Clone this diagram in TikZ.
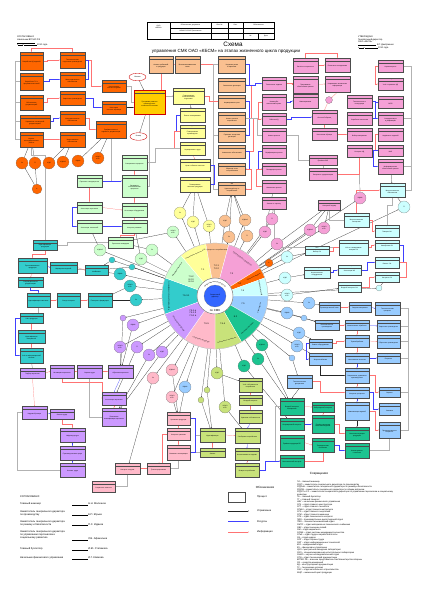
\documentclass[tikz,border=0pt]{standalone}
\usepackage{fontspec}
\setmainfont{Liberation Sans}
\usetikzlibrary{arrows.meta,shapes.geometric,decorations.text}

\definecolor{korange}{HTML}{FF6600}
\definecolor{ktan}{HTML}{FAC090}
\definecolor{kyellow}{HTML}{FFFF99}
\definecolor{kpink}{HTML}{F5A0D6}
\definecolor{klgreen}{HTML}{CCFFCC}
\definecolor{kteal}{HTML}{33CCCC}
\definecolor{kpurple}{HTML}{CC99FF}
\definecolor{krose}{HTML}{FFB9C9}
\definecolor{klblue}{HTML}{99CCFF}
\definecolor{kgreen}{HTML}{1CC490}
\definecolor{klime}{HTML}{C8E27A}
\definecolor{kcyan}{HTML}{CCFFFF}
\definecolor{kgold}{HTML}{FFCC00}
\definecolor{kblue}{HTML}{3366FF}

\pgfdeclarelayer{background}
\pgfsetlayers{background,main}

\newcommand{\boxfont}{\fontsize{2.3}{2.7}\selectfont}
\newcommand{\codefont}{\fontsize{2.1}{2.3}\selectfont}
\newcommand{\rolefont}{\fontsize{2.2}{2.5}\selectfont}
\newcommand{\notefont}{\fontsize{3.6}{4.3}\selectfont}

\begin{document}
\begin{tikzpicture}[x=0.05cm,y=-0.05cm]
  \tikzset{procbox/.style 2 args={draw=black!70,line width=0.2pt,fill=#1,inner sep=0.4pt,
      minimum width=1.2cm,minimum height=0.65cm,text width=1.0cm,align=center,font=\boxfont,
      execute at begin node={\rule{0pt}{6pt}},
      path picture={\draw[black!70,line width=0.15pt]
          ([yshift=-0.15cm]path picture bounding box.north west) --
          ([yshift=-0.15cm]path picture bounding box.north east);
        \node[font=\codefont,inner sep=0pt,minimum width=0pt,minimum height=0pt,
          text height=1.5pt,text depth=0.4pt,anchor=north]
          at ([yshift=-0.02cm]path picture bounding box.north) {#2};}}}
  \tikzset{orangebox/.style={procbox={korange}{#1}},tanbox/.style={procbox={ktan}{#1}},
    yellowbox/.style={procbox={kyellow}{#1}},pinkbox/.style={procbox={kpink}{#1}},
    cyanbox/.style={procbox={kcyan}{#1}},bluebox/.style={procbox={klblue}{#1}},
    greenbox/.style={procbox={kgreen}{#1}},limebox/.style={procbox={klime}{#1}},
    rosebox/.style={procbox={krose}{#1}},purplebox/.style={procbox={kpurple}{#1}},
    tealbox/.style={procbox={kteal}{#1}},lgreenbox/.style={procbox={klgreen}{#1}}}
  \tikzset{wh/.style 2 args={minimum width=#1*0.05cm,minimum height=#2*0.05cm}}
  \tikzset{rolenode/.style={circle,draw=black!60,line width=0.2pt,fill=#1,inner sep=0pt,
      minimum size=0.6cm,align=center,font=\rolefont}}
  \tikzset{termnode/.style={ellipse,draw=red!80!black,line width=0.5pt,fill=white,
      minimum width=0.85cm,minimum height=0.38cm,inner sep=0pt,font=\fontsize{2.6}{3}\selectfont}}
  \tikzset{plaintext/.style={inner sep=0pt,font=\notefont,align=left}}
  \tikzset{sectorlabel/.style={font=\fontsize{3.2}{3.7}\selectfont,align=center,inner sep=0pt}}
  \tikzset{sectornote/.style={font=\fontsize{2.3}{2.7}\selectfont,inner sep=0pt}}
  \tikzset{ctledge/.style={draw=black!85,line width=0.3pt,-{Stealth[length=1.4pt,width=1.1pt]}}}
  \tikzset{resedge/.style={draw=blue!75,line width=0.3pt,-{Stealth[length=1.4pt,width=1.1pt]}}}
  \tikzset{infedge/.style={draw=red!55,line width=0.3pt,-{Stealth[length=1.4pt,width=1.1pt]}}}
  \tikzset{busedge/.style={draw=black!30,line width=0.8pt}}

  \useasboundingbox (0,0) rectangle (424,600);

  \draw[line width=0.3pt] (147,22) rectangle (274,39);
  \draw[line width=0.25pt] (170,22) -- (170,39) (211,22) -- (211,39) (228,22) -- (228,39)
    (243,22) -- (243,39) (170,28.3) -- (274,28.3) (170,33.3) -- (274,33.3) (258,33.3) -- (258,39);
  \node[plaintext,font=\fontsize{2.4}{2.8}\selectfont,align=center] (hdr1) at (158.5,27) {ОАО\\«КБСМ»};
  \node[plaintext,font=\fontsize{2.4}{2.8}\selectfont] (hdr2) at (190.5,25) {Обозначение документа};
  \node[plaintext,font=\fontsize{2.4}{2.8}\selectfont] (hdr3) at (219.5,25) {Лист №};
  \node[plaintext,font=\fontsize{2.4}{2.8}\selectfont] (hdr4) at (235.5,25) {Лист};
  \node[plaintext,font=\fontsize{2.4}{2.8}\selectfont] (hdr5) at (258.5,25) {Обозначение};
  \node[plaintext,font=\fontsize{2.4}{2.8}\selectfont] (hdr6) at (190.5,30.8) {КСМК-РК-2010 Приложение};
  \node[plaintext,font=\fontsize{2.4}{2.8}\selectfont] (hdr7) at (250.5,36.2) {№};
  \node[plaintext,font=\fontsize{2.4}{2.8}\selectfont] (hdr8) at (266,36.2) {Дата};

  \node[inner sep=0pt,font=\fontsize{9}{10}\selectfont] (title) at (233,44) {Схема};
  \node[inner sep=0pt,font=\fontsize{6.4}{7}\selectfont] (subtitle) at (226,51) {управления СМК ОАО «КБСМ» на этапах жизненного цикла продукции};

  \node[plaintext,anchor=north west,font=\fontsize{3.2}{3.7}\selectfont] (agreed) at (17,36)
    {СОГЛАСОВАНО\\Начальник ВП МО РФ\\\rule{26pt}{0.2pt}\\«\rule{6pt}{0.2pt}»\rule{18pt}{0.2pt} 2010 года};
  \node[plaintext,anchor=north west,font=\fontsize{3.2}{3.7}\selectfont] (approved) at (358,36)
    {УТВЕРЖДАЮ\\Генеральный директор\\ОАО «КБСМ»\\\rule{26pt}{0.2pt} В.Г. Дмитриенко\\«\rule{6pt}{0.2pt}»\rule{18pt}{0.2pt} 2010 года};

  \node[orangebox=ОГК,wh={23}{18}] (o1) at (31.5,61) {Разработка КД изделий};
  \node[orangebox=ОГК,wh={23}{17}] (o2) at (31.5,81.5) {Разработка ТУ и программ испытаний};
  \node[orangebox=ОТОиКД,wh={23}{15}] (o3) at (31.5,102.5) {Обеспечение документацией};
  \node[orangebox=ОТД,wh={30}{13}] (o4) at (35,121.5) {Управление технической документацией};
  \node[orangebox=ОНИО,wh={23}{15}] (o5) at (31.5,139.5) {Научно-исследовательские работы};
  \node[orangebox=ОГТ,wh={25}{16}] (o6) at (72.5,60) {Технологическая подготовка производства};
  \node[orangebox=ОГМет,wh={25}{15}] (o7) at (72.5,79.5) {Металлургическое обеспечение};
  \node[orangebox=ОГСв,wh={25}{14}] (o8) at (72.5,98) {Сварочное производство};
  \node[orangebox=ОИО,wh={25}{14}] (o9) at (72.5,118) {Инструментальное обеспечение};
  \node[orangebox=ОГЭ,wh={25}{15}] (o10) at (72.5,139.5) {Энергетическое обеспечение};
  \node[orangebox=ОСИ,wh={24}{12}] (o11) at (114,86) {Изготовление опытных изделий};
  \node[orangebox=СИЛ,wh={24}{13}] (o12) at (114,107.5) {Испытания опытных образцов};
  \node[orangebox=ВП,wh={30}{17}] (o13) at (111,129.5) {Приёмка опытных изделий и документации};
  \node[procbox={kgold}{ГИ},draw=red!80!black,line width=0.6pt,wh={31}{24}] (og) at (149.5,102) {Программа развития производства и технической политики};
  \node[termnode] (nachalo) at (137.5,77) {Начало};
  \node[termnode] (konets) at (138.5,136.5) {Конец};

  \node[tanbox=ОВС,wh={24}{17}] (t1) at (161,64.5) {Анализ требований к продукции};
  \node[tanbox=ОВЭС,wh={25}{17}] (t2) at (187.5,64.5) {Внешнеэкономические связи};
  \node[tanbox=ОМ,wh={27}{17}] (t3) at (232,64.5) {Изучение рынка и маркетинг};
  \node[tanbox=ОВС,wh={27}{14}] (t4) at (232,85) {Заключение договоров};
  \node[tanbox=ПЭО,wh={27}{13}] (t5) at (232,101.5) {Формирование цены};
  \node[tanbox=ОЗП,wh={27}{13}] (t6) at (232,118.5) {Анализ заказов потребителя};
  \node[tanbox=ЮО,wh={27}{14}] (t7) at (232,135) {Правовая экспертиза договоров};
  \node[tanbox=ФУ,wh={27}{13}] (t8) at (232,151.5) {Финансовое обеспечение};
  \node[tanbox=ОВС,wh={27}{12}] (t9) at (232,169) {Обратная связь с потребителем};
  \node[tanbox=ОМ,wh={27}{13}] (t10) at (232,189) {Удовлетворённость потребителей};

  \node[yellowbox=ОГТ,wh={31}{16}] (y1) at (188.5,96) {Планирование технологической подготовки};
  \node[yellowbox=ПЭО,wh={25}{14}] (y2) at (192.5,115) {Бизнес-планирование};
  \node[yellowbox=ПДО,wh={25}{13}] (y3) at (192.5,131.5) {Планирование производства};
  \node[yellowbox=ОТиЗ,wh={25}{13}] (y4) at (192.5,148.5) {Нормирование труда};
  \node[yellowbox=ОСМК,wh={30}{12}] (y5) at (195,165) {Цели в области качества};
  \node[yellowbox=ОСМК,wh={30}{15}] (y6) at (195,184.5) {Планирование качества продукции};

  \node[pinkbox=ОГК,wh={24}{13}] (pa1) at (274,83.5) {Техническое задание};
  \node[pinkbox=ОГК,wh={24}{16}] (pa2) at (274,102) {Эскизный и технический проект};
  \node[pinkbox=КБ,wh={24}{12}] (pa3) at (274,119) {Рабочая КД};
  \node[pinkbox=ОГК,wh={24}{14}] (pa4) at (274,135) {Анализ проекта};
  \node[pinkbox=ОГК,wh={24}{13}] (pa5) at (274,151.5) {Верификация проекта};
  \node[pinkbox=ОГК,wh={24}{12}] (pa6) at (274,169) {Валидация проекта};
  \node[pinkbox=ОТД,wh={24}{13}] (pa7) at (274,186.5) {Изменения проекта};
  \node[pinkbox=ОСМК,wh={24}{12}] (pa8) at (274,203) {Записи по проекту};
  \node[pinkbox=ОПО,wh={25}{15}] (pb1) at (305.5,65.5) {Расчёты на прочность};
  \node[pinkbox=ОПО,wh={25}{17}] (pb2) at (305.5,84.5) {Программное обеспечение проекта};
  \node[pinkbox=БМ,wh={25}{14}] (pb3) at (305.5,101) {Макетирование};
  \node[pinkbox=НТБ,wh={25}{14}] (pk1) at (337.5,65) {Патентные исследования};
  \node[pinkbox=НТБ,wh={25}{16}] (pk2) at (337.5,84) {Нормативно-техническая информация};
  \node[pinkbox=ОСИ,wh={25}{14}] (pm1) at (324.5,117) {Опытный образец};
  \node[pinkbox=СИЛ,wh={25}{12}] (pm2) at (324.5,134) {Испытания образца};
  \node[pinkbox=ВП,wh={28}{10}] (pm3) at (323,160) {Приёмка ОКР};
  \node[pinkbox=ОГК,wh={28}{12}] (pm4) at (323,174) {Литерность документации};
  \node[pinkbox=ОГК,wh={22}{10}] (pm5) at (329.5,205) {Авторский надзор};
  \node[pinkbox=ОГТ,wh={25}{13}] (pd1) at (359.5,101.5) {Технологичность конструкции};
  \node[pinkbox=ОГТ,wh={25}{13}] (pd2) at (359.5,118.5) {Отработка технологии};
  \node[pinkbox=ОГМет,wh={25}{13}] (pd3) at (359.5,134.5) {Выбор материалов};
  \node[pinkbox=ОТК,wh={25}{12}] (pd4) at (359.5,151) {Контроль КД};
  \node[pinkbox=ОСМК,wh={25}{12}] (pe1) at (390.5,66) {Нормоконтроль};
  \node[pinkbox=ОТД,wh={25}{12}] (pe2) at (390.5,84) {Учёт и хранение КД};
  \node[pinkbox=ОИТ,wh={25}{12}] (pe3) at (390.5,102) {САПР};
  \node[pinkbox=ОГК,wh={25}{13}] (pe4) at (390.5,118.5) {Стандартизация и унификация};
  \node[pinkbox=ОГК,wh={25}{13}] (pe5) at (390.5,134.5) {Надёжность изделий};
  \node[pinkbox=ОНИО,wh={25}{11}] (pe6) at (390.5,150.5) {НИР};
  \node[pinkbox=ОГК,wh={25}{15}] (pe7) at (390.5,166.5) {Информационное обеспечение проекта};
  \node[rolenode=kpink,minimum size=0.35cm] (pdot) at (329,100) {};

  \node[cyanbox=ОГМетр,wh={25}{14}] (c1) at (392.5,190) {Метрологическое обеспечение};
  \node[cyanbox=ОГМетр,wh={25}{14}] (c2) at (356.5,220) {Метрологическая экспертиза};
  \node[cyanbox=ЦИЛ,wh={24}{12}] (c3) at (387,231) {Поверка СИ};
  \node[cyanbox=ОГМетр,wh={29}{15}] (c4) at (353.5,247.5) {Учёт и планирование поверки СИ};
  \node[cyanbox=ЦИЛ,wh={24}{10}] (c5) at (387,245) {Калибровка СИ};
  \node[cyanbox=ОГМ,wh={24}{11}] (c6) at (387,262.5) {Ремонт СИ};
  \node[cyanbox=ОГМетр,wh={23}{10}] (c7) at (349.5,270) {Аттестация ИО};
  \node[cyanbox=ЦИЛ,wh={24}{10}] (c8) at (387,277) {Контроль СИ};
  \node[cyanbox=ОТК,wh={24}{9}] (c9) at (317,251) {Выбор СИ};
  \node[cyanbox=ОГМетр,wh={26}{11}] (c10) at (317,272.5) {Испытательное оборудование};
  \node[cyanbox=ОТК,wh={23}{10}] (c11) at (349.5,287) {Входной контроль СИ};

  \node[bluebox=ПДО,wh={21}{10}] (b1) at (329.5,307) {Производственный план};
  \node[bluebox=ОМТС,wh={22}{10}] (b2) at (360,307) {Закупка материалов};
  \node[bluebox=ОГТ,wh={25}{13}] (b3) at (387.5,308.5) {Технологические процессы};
  \node[bluebox=Цех 1,wh={24}{10}] (b4) at (327,325) {Заготовительное производство};
  \node[bluebox=Цех 2,wh={24}{10}] (b5) at (357,325) {Механическая обработка};
  \node[bluebox=Цех 3,wh={23}{12}] (b6) at (388.5,326) {Сварочное производство};
  \node[bluebox=Цех 4,wh={24}{12}] (b7) at (357,341) {Термообработка};
  \node[bluebox=Цех 5,wh={23}{13}] (b8) at (388.5,341.5) {Сборочное производство};
  \node[bluebox=ОГМ,wh={23}{9}] (b9) at (320.5,343.5) {Ремонт оборудования};
  \node[bluebox=ОГЭ,wh={23}{12}] (b10) at (320.5,359) {Энергоснабжение};
  \node[bluebox=ИЦ,wh={24}{10}] (b11) at (357,358) {Изготовление оснастки};
  \node[bluebox=Цех 6,wh={23}{10}] (b12) at (388.5,358) {Покрытия};
  \node[bluebox=ПДО,wh={24}{15}] (b13) at (357,375.5) {Оперативное управление производством};
  \node[bluebox=ОГТ,wh={25}{13}] (b14) at (299.5,381.5) {Технологическая дисциплина};
  \node[bluebox=ОТК,wh={24}{11}] (b15) at (357,392.5) {Контроль процессов};
  \node[bluebox=Цех 7,wh={21}{10}] (b16) at (389.5,392) {Окраска};
  \node[bluebox=ПДО,wh={24}{18}] (b17) at (357,411) {Комплектация изделий};
  \node[bluebox=Цех 8,wh={21}{12}] (b18) at (389.5,409) {Упаковка};
  \node[bluebox=ОГТ,wh={21}{16}] (b19) at (389.5,430) {Производственные мощности};

  \node[greenbox=ОТК,wh={24}{17}] (g1) at (292,406.5) {Входной контроль материалов};
  \node[greenbox=ЦЗЛ,wh={22}{10}] (g2) at (323,407) {Лабораторный контроль};
  \node[greenbox=ОТК,wh={24}{12}] (g3) at (292,424) {Операционный контроль};
  \node[greenbox=СИЛ,wh={22}{18}] (g4) at (323,424) {Приёмо-сдаточные испытания изделий};
  \node[greenbox=ВП,wh={24}{15}] (g5) at (292,442.5) {Приёмка продукции ВП};
  \node[greenbox=СИЛ,wh={22}{14}] (g6) at (323,445) {Периодические испытания};
  \node[greenbox=ОТК,wh={24}{13}] (g7) at (357,433.5) {Несоответствующая продукция};
  \node[greenbox=ОСМК,wh={24}{15}] (g8) at (357,450.5) {Анализ данных о качестве};
  \node[greenbox=ОТК,wh={24}{12}] (g9) at (292,461) {Окончательный контроль};

  \node[limebox=ОВС,wh={23}{14}] (m1) at (250.5,385) {Учёт собственности потребителя};
  \node[limebox=ОМТС,wh={23}{10}] (m2) at (250.5,400) {Входной контроль};
  \node[limebox=Склад,wh={23}{13}] (m3) at (250.5,416.5) {Хранение собственности};
  \node[limebox=ОТК,wh={25}{14}] (m4) at (212.5,435) {Идентификация};
  \node[limebox=ОВС,wh={25}{15}] (m5) at (247.5,435.5) {Сообщение потребителю};
  \node[limebox=ОСМК,wh={25}{9}] (m6) at (212.5,452.5) {Записи};
  \node[limebox=Цех,wh={24}{12}] (m7) at (247,454) {Использование в изделии};
  \node[limebox=ОВС,wh={24}{14}] (m8) at (247,470) {Возврат потребителю};

  \node[rosebox=Склад,wh={23}{13}] (s1) at (178.5,418.5) {Хранение продукции};
  \node[rosebox=ОТК,wh={23}{12}] (s2) at (178.5,434) {Контроль хранения};
  \node[rosebox=Цех,wh={23}{15}] (s3) at (178.5,452.5) {Упаковка и консервация};
  \node[rosebox=ОТК,wh={25}{11}] (s4) at (127.5,468.5) {Контроль отгрузки};
  \node[rosebox=ТО,wh={23}{11}] (s5) at (158.5,468.5) {Транспортирование};
  \node[rosebox=ОСМК,wh={23}{11}] (s6) at (103.5,486.5) {Сохранение качества};

  \node[purplebox=ОК,wh={25}{10}] (u1) at (32.5,373) {Подбор персонала};
  \node[purplebox=ОТиЗ,wh={24}{13}] (u2) at (62,371.5) {Мотивация персонала};
  \node[purplebox=ООТ,wh={25}{13}] (u3) at (89.5,371.5) {Охрана труда};
  \node[purplebox=ОК,wh={25}{13}] (u4) at (120.5,371.5) {Обучение персонала};
  \node[purplebox=ОК,wh={24}{13}] (u5) at (114,398.5) {Аттестация персонала};
  \node[purplebox=ОК,wh={24}{18}] (u6) at (114,417) {Повышение квалификации персонала};
  \node[purplebox=ОК,wh={25}{13}] (u7) at (34.5,412.5) {Кадровый резерв};
  \node[purplebox=ОТиЗ,wh={24}{10}] (u8) at (62,414) {Оплата труда};
  \node[purplebox=ОГЭ,wh={25}{14}] (u9) at (72.5,435) {Инфраструктура};
  \node[purplebox=ОКС,wh={25}{14}] (u10) at (72.5,453) {Производственная среда};
  \node[purplebox=ООТ,wh={25}{14}] (u11) at (72.5,470) {Условия труда};

  \node[tealbox=ОТК,wh={24}{10}] (e1) at (45,245) {Идентификация продукции};
  \node[tealbox=ОТК,wh={29}{15}] (e2) at (32.5,265.5) {Прослеживаемость продукции};
  \node[tealbox=ОГТ,wh={27}{11}] (e3) at (63.5,267.5) {Маркировка изделий};
  \node[tealbox=ВП,wh={23}{10}] (e4) at (96.5,270) {Клеймение};
  \node[tealbox=ПДО,wh={25}{10}] (e5) at (30.5,282) {Сопроводительная документация};
  \node[tealbox=Цех,wh={23}{14}] (e6) at (38.5,300) {Идентификация заготовок};
  \node[tealbox=ОТК,wh={23}{14}] (e7) at (68.5,300) {Статус контроля};
  \node[tealbox=ОТД,wh={24}{14}] (e8) at (100,300) {Паспорта и формуляры};
  \node[tealbox=Склад,wh={23}{10}] (e9) at (31.5,318) {Учёт продукции};
  \node[tealbox=ОМТС,wh={27}{13}] (e10) at (31.5,336.5) {Идентификация материалов};
  \node[tealbox=ОИТ,wh={23}{15}] (e11) at (31.5,355.5) {Учёт в информационной системе};

  \node[lgreenbox=ОГТ,wh={25}{15}] (l1) at (134.5,162.5) {Специальные процессы};
  \node[lgreenbox=ОГТ,wh={25}{12}] (l2) at (89.5,181) {Перечень спецпроцессов};
  \node[lgreenbox=ОГТ,wh={25}{22}] (l3) at (134.5,186) {Валидация технологических процессов};
  \node[lgreenbox=ОК,wh={25}{11}] (l4) at (89.5,207.5) {Аттестация персонала};
  \node[lgreenbox=ОГМ,wh={25}{14}] (l5) at (134.5,210) {Аттестация оборудования};
  \node[lgreenbox=ОГСв,wh={25}{13}] (l6) at (89.5,226.5) {Аттестация технологий};
  \node[lgreenbox=ЦЗЛ,wh={25}{13}] (l7) at (134.5,226.5) {Контроль режимов};
  \node[lgreenbox=ОТК,wh={25}{11}] (l8) at (120.5,242.5) {Протоколы валидации};

  \begin{scope}[shift={(215,296)},y=0.05cm]
    \fill[kteal,draw=white,line width=0.4pt] (160:18) -- (160:53) arc[start angle=160,end angle=200,radius=53] -- (200:18) arc[start angle=200,end angle=160,radius=18] -- cycle;
    \fill[klgreen,draw=white,line width=0.4pt] (130:18) -- (130:53) arc[start angle=130,end angle=160,radius=53] -- (160:18) arc[start angle=160,end angle=130,radius=18] -- cycle;
    \fill[kyellow,draw=white,line width=0.4pt] (100:18) -- (100:53) arc[start angle=100,end angle=130,radius=53] -- (130:18) arc[start angle=130,end angle=100,radius=18] -- cycle;
    \fill[ktan,draw=white,line width=0.4pt] (75:18) -- (75:53) arc[start angle=75,end angle=100,radius=53] -- (100:18) arc[start angle=100,end angle=75,radius=18] -- cycle;
    \fill[kpink,draw=white,line width=0.4pt] (32:18) -- (32:53) arc[start angle=32,end angle=75,radius=53] -- (75:18) arc[start angle=75,end angle=32,radius=18] -- cycle;
    \fill[korange,draw=white,line width=0.4pt] (20:18) -- (20:53) arc[start angle=20,end angle=32,radius=53] -- (32:18) arc[start angle=32,end angle=20,radius=18] -- cycle;
    \fill[kcyan,draw=white,line width=0.4pt] (0:18) -- (0:53) arc[start angle=0,end angle=20,radius=53] -- (20:18) arc[start angle=20,end angle=0,radius=18] -- cycle;
    \fill[klblue,draw=white,line width=0.4pt] (-30:18) -- (-30:53) arc[start angle=-30,end angle=0,radius=53] -- (0:18) arc[start angle=0,end angle=-30,radius=18] -- cycle;
    \fill[kgreen,draw=white,line width=0.4pt] (-60:18) -- (-60:53) arc[start angle=-60,end angle=-30,radius=53] -- (-30:18) arc[start angle=-30,end angle=-60,radius=18] -- cycle;
    \fill[klime,draw=white,line width=0.4pt] (-90:18) -- (-90:53) arc[start angle=-90,end angle=-60,radius=53] -- (-60:18) arc[start angle=-60,end angle=-90,radius=18] -- cycle;
    \fill[krose,draw=white,line width=0.4pt] (-125:18) -- (-125:53) arc[start angle=-125,end angle=-90,radius=53] -- (-90:18) arc[start angle=-90,end angle=-125,radius=18] -- cycle;
    \fill[kpurple,draw=white,line width=0.4pt] (-160:18) -- (-160:53) arc[start angle=-160,end angle=-125,radius=53] -- (-125:18) arc[start angle=-125,end angle=-160,radius=18] -- cycle;
    \draw[black!40,line width=0.3pt] (0,0) circle[radius=53];
    \fill[white] (0,0) circle[radius=18];
    \draw[black!60,line width=0.6pt] (0,0) circle[radius=18];
    \fill[kblue] (0,0) circle[radius=11];
    \draw[black!60,line width=0.2pt] (0,0) circle[radius=11];
    \node[font=\fontsize{2.3}{2.6}\selectfont,align=center,inner sep=0pt] (gdir) at (0,0) {Генеральный\\директор};
    \node[font=\fontsize{4.2}{5}\selectfont,inner sep=0pt] (posmk) at (0,-14.6) {по СМК};
    \path[decorate,decoration={text along path,text align=center,
        text={|\fontsize{2.5}{3}\selectfont|Представитель руководства}}]
      (165:13.3) arc[start angle=165,end angle=15,radius=13.3];

    \node[sectorlabel] (sl1) at (180:29) {7.5.3.1};
    \node[sectorlabel] (sl2) at (145:29) {7.5.2\\8.2.3\\8.2.4};
    \node[sectorlabel] (sl3) at (115:29) {7.1};
    \node[sectorlabel] (sl4) at (87.5:29) {7.2.1\\7.2.2};
    \node[sectorlabel] (sl5) at (53.5:28) {7.3};
    \node[sectorlabel] (sl6) at (26:27) {7.4};
    \node[sectorlabel] (sl7) at (10:28) {7.6};
    \node[sectorlabel] (sl8) at (-15:29) {7.5};
    \node[sectorlabel] (sl9) at (-45:29) {8.2};
    \node[sectorlabel] (sl10) at (-75:29) {7.5.4};
    \node[sectorlabel] (sl11) at (-107.5:29) {7.5.5};
    \node[sectorlabel] (sl12) at (-142.5:28) {7.5.1 а\\7.5.1 б\\7.5.1 в};

    \node[sectornote,rotate=90] (sd1) at (180:46) {Идентификация и прослеживаемость};
    \node[sectornote,rotate=55] (sd2) at (145:46) {Валидация процессов};
    \node[sectornote,font=\fontsize{2.1}{2.5}\selectfont,rotate=25] (sd3) at (115:46) {Планирование процессов ЖЦП};
    \node[sectornote,rotate=-2.5] (sd4) at (87.5:46) {Процессы с потребителями};
    \node[sectornote,rotate=-36.5] (sd5) at (53.5:46) {Проектирование и разработка};
    \node[sectornote,font=\fontsize{2.2}{2.6}\selectfont,rotate=26] (sd6) at (26:43) {Оценка поставщиков};
    \node[sectornote,rotate=-80] (sd7) at (10:46) {Средства измерений};
    \node[sectornote,rotate=75] (sd8) at (-15:46) {Производство};
    \node[sectornote,rotate=45] (sd9) at (-45:46) {Испытания и контроль};
    \node[sectornote,font=\fontsize{2.1}{2.5}\selectfont,rotate=15] (sd10) at (-75:46) {Собственность потребителя};
    \node[sectornote,rotate=-17.5] (sd11) at (-107.5:46) {Сохранение продукции};
    \node[sectornote,rotate=-52.5] (sd12) at (-142.5:46) {Обеспечение ресурсами};
  \end{scope}
  \node[circle,minimum size=5.3cm,inner sep=0pt] (wheel) at (215,296) {};

  \node[rolenode=korange] (ro1) at (22,163) {ГИ};
  \node[rolenode=korange] (ro2) at (35,163) {ГТ};
  \node[rolenode=korange] (ro3) at (49,163) {ЗГДП};
  \node[rolenode=korange] (ro4) at (63,162) {ЗГДРиБ};
  \node[rolenode=korange] (ro5) at (78,161) {ЗГДОВ};
  \node[rolenode=korange] (ro6) at (98,158) {ЗГДУП\\и СР};
  \node[rolenode=korange,minimum size=0.5cm] (roa) at (37,189) {А};
  \node[rolenode=korange,minimum size=0.4cm] (rob) at (269,263) {А};
  \node[rolenode=kyellow] (ry1) at (180,213) {ГИ};
  \node[rolenode=kyellow] (ry2) at (193,222) {ЗГДП};
  \node[rolenode=kyellow] (ry3) at (209,226) {ЗГДУП\\и СР};
  \node[rolenode=ktan] (rt1) at (225,221) {ЗГДП};
  \node[rolenode=ktan] (rt2) at (229,237) {ГИ};
  \node[rolenode=ktan] (rt3) at (245,220) {ЗГДРиБ};
  \node[rolenode=ktan] (rt4) at (247,236) {ГТ};
  \node[rolenode=kpink] (rp1) at (272,219) {ГТ};
  \node[rolenode=kpink] (rp2) at (265,232) {ЗГДП};
  \node[rolenode=kpink] (rp3) at (277,244) {ГИ};
  \node[rolenode=kpink] (rp4) at (310,230) {ЗГДРиБ};
  \node[rolenode=kpink] (rp5) at (324,228) {ЗГДУП\\и СР};
  \node[rolenode=kpink] (rp6) at (360,198) {ЗГДОВ};
  \node[rolenode=kcyan] (rq1) at (287,257) {ГИ};
  \node[rolenode=kcyan] (rq2) at (285,278) {ЗГДП};
  \node[rolenode=kcyan] (rq3) at (287,295) {ЗГДУП\\и СР};
  \node[rolenode=kcyan] (rq4) at (404,207) {ГТ};
  \node[rolenode=kcyan,minimum size=0.3cm] (rq5) at (379,288) {};
  \node[rolenode=klblue] (rb1) at (287,313) {ЗГДОВ};
  \node[rolenode=klblue] (rb2) at (309,303) {ГИ};
  \node[rolenode=klblue,minimum size=0.3cm] (rb3) at (304,318) {};
  \node[rolenode=klblue] (rb4) at (299,333) {ЗГДП};
  \node[rolenode=klblue] (rb5) at (297,346) {ЗГДУП\\и СР};
  \node[rolenode=klblue,minimum size=0.3cm] (rb6) at (292,358) {};
  \node[rolenode=klblue] (rb7) at (185,387) {ЗГДОВ};
  \node[rolenode=kgreen] (rg1) at (262,345) {ЗГДРиБ};
  \node[rolenode=kgreen] (rg2) at (258,359) {ГИ};
  \node[rolenode=kgreen] (rg3) at (244,366) {ЗГДП};
  \node[rolenode=klime] (rm1) at (217,373) {ЗГДП};
  \node[rolenode=klime] (rm2) at (225,407) {ЗГДУП\\и СР};
  \node[rolenode=klime,minimum size=0.3cm] (rm3) at (201,400) {};
  \node[rolenode=klime,minimum size=0.3cm] (rm4) at (207,390) {};
  \node[rolenode=krose] (rr1) at (153,378) {ГИ};
  \node[rolenode=krose] (rr2) at (172,370) {ЗГДРиБ};
  \node[rolenode=krose] (rr3) at (172,397) {ЗГДУП\\и СР};
  \node[rolenode=kpurple,minimum size=0.3cm] (ru1) at (123,318) {};
  \node[rolenode=kpurple] (ru2) at (133,325) {ЗГДОВ};
  \node[rolenode=kpurple] (ru3) at (120,347) {ЗГДУП\\и СР};
  \node[rolenode=kpurple] (ru4) at (137,347) {ГТ};
  \node[rolenode=kpurple] (ru5) at (149,355) {ГИ};
  \node[rolenode=kpurple] (ru6) at (162,352) {ЗГДП};
  \node[rolenode=kteal] (re1) at (136,300) {ГИ};
  \node[rolenode=kteal,minimum size=0.3cm] (re2) at (112,260) {};
  \node[rolenode=kteal,minimum size=0.3cm] (re3) at (132,267) {};
  \node[rolenode=kteal] (re4) at (120,274) {ЗГДОВ};
  \node[rolenode=kteal] (re5) at (130,286) {ЗГДУП\\и СР};
  \node[rolenode=klgreen] (rl1) at (173,232) {ЗГДУП\\и СР};
  \node[rolenode=klgreen] (rl2) at (152,250) {ГИ};
  \node[rolenode=klgreen] (rl3) at (141,259) {ЗГДП};
  \node[rolenode=klgreen] (rl4) at (100,250) {ЗГДРиБ};

  \node[inner sep=0pt,font=\fontsize{4.2}{5}\selectfont] (legtitle) at (265,487) {Обозначения};
  \node[draw=black!70,line width=0.2pt,minimum width=0.85cm,minimum height=0.5cm,inner sep=0pt] (legbox) at (236.5,497) {};
  \node[plaintext,anchor=west] (legproc) at (257,497) {Процесс};
  \coordinate (legca) at (228,511);
  \coordinate (legcb) at (249,511);
  \coordinate (legra) at (228,521.5);
  \coordinate (legrb) at (249,521.5);
  \coordinate (legia) at (228,532);
  \coordinate (legib) at (249,532);
  \node[plaintext,anchor=west] (legctl) at (257,511) {Управление};
  \node[plaintext,anchor=west] (legres) at (257,521.5) {Ресурсы};
  \node[plaintext,anchor=west] (leginf) at (257,532) {Информация};

  \node[inner sep=0pt,font=\fontsize{4.4}{5}\selectfont] (abbrtitle) at (319,474) {Сокращения};
  \node[plaintext,anchor=north west,font=\fontsize{3.05}{3.58}\selectfont] (abbr) at (297,481) {ГИ – главный инженер\\
    ЗГДП – заместитель генерального директора по производству\\
    ЗГДРиБ – заместитель генерального директора по режиму и безопасности\\
    ЗГДОВ – заместитель генерального директора по общим вопросам\\
    ЗГДУП и СР – заместитель генерального директора по управлению персоналом и социальному\\
    развитию\\
    ГБ – главный бухгалтер\\
    ГТ – главный технолог\\
    НФУ – начальник финансового управления\\
    ОГК – отдел главного конструктора\\
    ОГТ – отдел главного технолога\\
    ОГМет – отдел главного металлурга\\
    ОГЭ – отдел главного энергетика\\
    ОГМ – отдел главного механика\\
    ОТК – отдел технического контроля\\
    ПДО – производственно-диспетчерский отдел\\
    ПЭО – планово-экономический отдел\\
    ОМТС – отдел материально-технического снабжения\\
    ОВС – отдел внешних связей\\
    ОМ – отдел маркетинга\\
    ОСМК – отдел системы менеджмента качества\\
    ОТиЗ – отдел труда и заработной платы\\
    ОК – отдел кадров\\
    ООТ – отдел охраны труда\\
    ОИТ – отдел информационных технологий\\
    ЮО – юридический отдел\\
    ФУ – финансовое управление\\
    ЦЗЛ – центральная заводская лаборатория\\
    СИЛ – специализированная испытательная лаборатория\\
    ОНИО – научно-исследовательский отдел\\
    ОТД – отдел технической документации\\
    ВП МО РФ – военное представительство Министерства обороны\\
    СИ – средства измерений\\
    КД – конструкторская документация\\
    ТУ – технические условия\\
    ОКС – отдел капитального строительства\\
    ЖЦП – жизненный цикл продукции};

  \node[plaintext,anchor=west] (sgn0) at (20,497) {СОГЛАСОВАНО:};
  \node[plaintext,anchor=west] (sgn1) at (20,504) {Главный инженер};
  \node[plaintext,anchor=west] (sgn1n) at (72,504) {\rule{22pt}{0.2pt} Н.Н. Молчанов};
  \node[plaintext,anchor=west] (sgn2) at (20,513) {Заместитель генерального директора\\по производству};
  \node[plaintext,anchor=west] (sgn2n) at (72,515) {\rule{22pt}{0.2pt} Е.П. Юрьев};
  \node[plaintext,anchor=west] (sgn3) at (20,523) {Заместитель генерального директора\\по режиму и безопасности};
  \node[plaintext,anchor=west] (sgn3n) at (72,525) {\rule{22pt}{0.2pt} П.С. Юдаков};
  \node[plaintext,anchor=west] (sgn4) at (20,535) {Заместитель генерального директора\\по управлению персоналом и\\социальному развитию};
  \node[plaintext,anchor=west] (sgn4n) at (72,539) {\rule{22pt}{0.2pt} Л.В. Афанасьев};
  \node[plaintext,anchor=west] (sgn5) at (20,549) {Главный бухгалтер};
  \node[plaintext,anchor=west] (sgn5n) at (72,549) {\rule{22pt}{0.2pt} И.Ю. Степанова};
  \node[plaintext,anchor=west] (sgn6) at (20,558) {Начальник финансового управления};
  \node[plaintext,anchor=west] (sgn6n) at (72,558) {\rule{22pt}{0.2pt} И.Г. Климова};

  \begin{pgfonlayer}{background}
    \fill[white] (0,0) rectangle (424,600);

    \draw[ctledge] (legca) -- (legcb);
    \draw[resedge] (legra) -- (legrb);
    \draw[infedge] (legia) -- (legib);

    \draw[ctledge] (wheel) -- (rob);
    \draw[ctledge] (wheel) -- (ry1);
    \draw[ctledge] (wheel) -- (ry2);
    \draw[ctledge] (wheel) -- (ry3);
    \draw[ctledge] (wheel) -- (rt1);
    \draw[ctledge] (wheel) -- (rt2);
    \draw[ctledge] (wheel) -- (rt3);
    \draw[ctledge] (wheel) -- (rt4);
    \draw[ctledge] (wheel) -- (rp1);
    \draw[ctledge] (wheel) -- (rp2);
    \draw[ctledge] (wheel) -- (rp3);
    \draw[ctledge] (wheel) -- (rp4);
    \draw[ctledge] (wheel) -- (rp5);
    \draw[ctledge] (wheel) -- (rp6);
    \draw[ctledge] (wheel) -- (rq1);
    \draw[ctledge] (wheel) -- (rq2);
    \draw[ctledge] (wheel) -- (rq3);
    \draw[ctledge] (wheel) -- (rq4);
    \draw[ctledge] (wheel) -- (rq5);
    \draw[ctledge] (wheel) -- (rb1);
    \draw[ctledge] (wheel) -- (rb2);
    \draw[ctledge] (wheel) -- (rb3);
    \draw[ctledge] (wheel) -- (rb4);
    \draw[ctledge] (wheel) -- (rb5);
    \draw[ctledge] (wheel) -- (rb6);
    \draw[ctledge] (wheel) -- (rb7);
    \draw[ctledge] (wheel) -- (rg1);
    \draw[ctledge] (wheel) -- (rg2);
    \draw[ctledge] (wheel) -- (rg3);
    \draw[ctledge] (wheel) -- (rm1);
    \draw[ctledge] (wheel) -- (rm2);
    \draw[ctledge] (wheel) -- (rm3);
    \draw[ctledge] (wheel) -- (rm4);
    \draw[ctledge] (wheel) -- (rr1);
    \draw[ctledge] (wheel) -- (rr2);
    \draw[ctledge] (wheel) -- (rr3);
    \draw[ctledge] (wheel) -- (ru1);
    \draw[ctledge] (wheel) -- (ru2);
    \draw[ctledge] (wheel) -- (ru3);
    \draw[ctledge] (wheel) -- (ru4);
    \draw[ctledge] (wheel) -- (ru5);
    \draw[ctledge] (wheel) -- (ru6);
    \draw[ctledge] (wheel) -- (re1);
    \draw[ctledge] (wheel) -- (re2);
    \draw[ctledge] (wheel) -- (re3);
    \draw[ctledge] (wheel) -- (re4);
    \draw[ctledge] (wheel) -- (re5);
    \draw[ctledge] (wheel) -- (rl1);
    \draw[ctledge] (wheel) -- (rl2);
    \draw[ctledge] (wheel) -- (rl3);
    \draw[ctledge] (wheel) -- (rl4);

    \draw[ctledge] (ro1) -- (o5);
    \draw[ctledge] (ro2) -- (o5);
    \draw[ctledge] (ro3) -- (o10);
    \draw[ctledge] (ro4) -- (o10);
    \draw[ctledge] (ro5) -- (o13);
    \draw[ctledge] (ro6) -- (o13);
    \draw[ctledge] (roa) -- (ro1);
    \draw[ctledge] (roa) -- (ro2);
    \draw[infedge] (o1.east) -- ++(4,0) |- (o6.west);
    \draw[resedge] (o2.east) -- ++(6,0) |- (o7.west);
    \draw[infedge] (o3.east) -- ++(4,0) |- (o8.west);
    \draw[resedge] (o4.east) -- ++(3,0) |- (o9.west);
    \draw[infedge] (o5.east) -- ++(6,0) |- (o10.west);
    \draw[busedge] (o1.west) -- ++(-5,0) |- (o5.west);
    \draw[busedge] (o2.west) -- ++(-5,0);
    \draw[busedge] (o3.west) -- ++(-5,0);
    \draw[busedge] (o4.west) -- ++(-5,0);
    \draw[infedge] (o6.east) -- ++(6,0) |- (o11.west);
    \draw[resedge] (o8.east) -- ++(8,0) |- (o12.west);
    \draw[infedge] (o9.east) -- ++(4,0) |- (o13.west);
    \draw[infedge] (o6.north) -- ++(0,-4) -| (o1.north);
    \draw[resedge] (o7.east) -- ++(3,0) |- (o6.east);
    \draw[ctledge] (nachalo) -- (og);
    \draw[ctledge] (og) -- (konets);
    \draw[busedge] (o11.east) -- ++(5,0) |- (og.west);
    \draw[ctledge] (o12.east) -- (og.west|-o12.east);
    \draw[busedge] (o13.south) |- (l2.east);

    \draw[ctledge] (rt1) -- (t10);
    \draw[ctledge] (rt2) -- (t10);
    \draw[ctledge] (rt3) -- (t10);
    \draw[ctledge] (rt4) -- (t10);
    \draw[infedge] (t1.east) -- (t2.west);
    \draw[infedge] (t2.east) -- (t3.west);
    \draw[resedge] (t3.east) -- ++(4,0) |- (t4.east);
    \draw[infedge] (t4.east) -- ++(6,0) |- (t6.east);
    \draw[resedge] (t5.east) -- ++(4,0) |- (t7.east);
    \draw[infedge] (t6.east) -- ++(8,0) |- (t8.east);
    \draw[resedge] (t8.east) -- ++(4,0) |- (t9.east);
    \draw[infedge] (t9.east) -- ++(6,0) |- (t10.east);
    \draw[busedge] (t3.west) -- ++(-5,0) |- (t10.west);
    \draw[busedge] (t5.west) -- ++(-5,0);
    \draw[busedge] (t7.west) -- ++(-5,0);
    \draw[infedge] (t1.south) |- (y1.west);
    \draw[resedge] (t4.east) -- ++(10,0) |- (pa1.west);
    \draw[busedge] (t6.east) -- ++(12,0) |- (pa4.west);

    \draw[ctledge] (ry1) -- (y6);
    \draw[ctledge] (ry2) -- (y6);
    \draw[ctledge] (ry3) -- (y6);
    \draw[ctledge] (y1) -- (y2);
    \draw[resedge] (y2.west) -- ++(-4,0) |- (y3.west);
    \draw[infedge] (y3.west) -- ++(-6,0) |- (y4.west);
    \draw[resedge] (y5.east) -- ++(4,0) |- (y6.east);
    \draw[infedge] (y1.east) -- ++(5,0) |- (t5.west);
    \draw[busedge] (y1.west) -| (og.north);
    \draw[infedge] (y4.south) -- (y5.north);

    \draw[ctledge] (rp1) -- (pa8);
    \draw[ctledge] (rp2) -- (pa7);
    \draw[ctledge] (rp3) -- (pm5);
    \draw[ctledge] (rp4) -- (pm5);
    \draw[ctledge] (rp5) -- (pm5);
    \draw[ctledge] (rp6) -- (pd4);
    \draw[infedge] (pa1.east) -- ++(6,0) |- (pb2.west);
    \draw[resedge] (pa2.east) -- ++(4,0) |- (pb3.west);
    \draw[infedge] (pb1.east) -- ++(4,0) |- (pk1.west);
    \draw[infedge] (pb2.east) -- (pk2.west);
    \draw[resedge] (pa3.east) -- ++(5,0) |- (pm1.west);
    \draw[infedge] (pm1.south) -- (pm2.north);
    \draw[infedge] (pm2.east) -- ++(6,0) |- (pd3.west);
    \draw[resedge] (pd1.east) -- ++(3,0) |- (pd2.east);
    \draw[infedge] (pe1.west) -- ++(-3,0) |- (pe2.west);
    \draw[resedge] (pe3.west) -- ++(-3,0) |- (pe4.west);
    \draw[infedge] (pe5.west) -- ++(-3,0) |- (pe6.west);
    \draw[resedge] (pe6.west) -- ++(-5,0) |- (pe7.west);
    \draw[busedge] (pa4.east) -- ++(12,0) |- (pm3.west);
    \draw[busedge] (pm3.south) -- (pm4.north);
    \draw[infedge] (pm4.east) -| (pd4.south);
    \draw[infedge] (pk2.south) -- (pdot);
    \draw[infedge] (pdot) -- (pm1.north);
    \draw[infedge] (pb1.north) -- ++(0,-5) -| (pk1.north);
    \draw[busedge] (pe1.east) -- ++(8,0) |- (c1.east);
    \draw[busedge] (pe4.east) -- ++(8,0);
    \draw[busedge] (pe7.east) -- ++(8,0);
    \draw[resedge] (pa5.west) -- ++(-4,0) |- (pa6.west);
    \draw[infedge] (pa6.west) -- ++(-6,0) |- (pa7.west);
    \draw[infedge] (pa2.west) -- ++(-4,0) |- (pa3.west);
    \draw[busedge] (pa8.south) |- (c4.west);
    \draw[busedge] (pm5.south) |- (c2.west);
    \draw[ctledge] (pe7) -- (c1);

    \draw[ctledge] (rq1) -- (c9);
    \draw[ctledge] (rq2) -- (c10);
    \draw[ctledge] (rq3) -- (c11);
    \draw[ctledge] (rq4) -- (c1);
    \draw[ctledge] (rq5) -- (c8);
    \draw[infedge] (c9.east) -- ++(4,0) |- (c4.west);
    \draw[resedge] (c10.east) -- ++(3,0) |- (c7.west);
    \draw[infedge] (c4.east) -- ++(3,0) |- (c5.west);
    \draw[infedge] (c2.east) -- ++(3,0) |- (c3.west);
    \draw[resedge] (c7.east) -- ++(6,0) |- (c6.west);
    \draw[infedge] (c11.east) -- ++(8,0) |- (c8.west);
    \draw[busedge] (c1.south) -- ++(0,8) -| (c3.north);
    \draw[infedge] (c2.north) |- (c1.west);
    \draw[resedge] (c5.east) -- ++(4,0) |- (c6.east);
    \draw[infedge] (c6.east) -- ++(7,0) |- (c8.east);

    \draw[ctledge] (rb1) -- (b4);
    \draw[ctledge] (rb2) -- (b1);
    \draw[ctledge] (rb3) -- (b4);
    \draw[ctledge] (rb4) -- (b9);
    \draw[ctledge] (rb5) -- (b10);
    \draw[ctledge] (rb6) -- (b14);
    \draw[ctledge] (rb7) -- (s1);
    \draw[infedge] (b1.east) -- (b2.west);
    \draw[resedge] (b2.east) -- (b3.west);
    \draw[infedge] (b4.east) -- (b5.west);
    \draw[resedge] (b5.east) -- (b6.west);
    \draw[infedge] (b7.east) -- (b8.west);
    \draw[resedge] (b11.east) -- (b12.west);
    \draw[infedge] (b9.east) -- ++(4,0) |- (b7.west);
    \draw[busedge] (b3.east) -- ++(8,0) |- (b19.east);
    \draw[busedge] (b6.east) -- ++(8,0);
    \draw[busedge] (b8.east) -- ++(8,0);
    \draw[busedge] (b12.east) -- ++(8,0);
    \draw[busedge] (b16.east) -- ++(8,0);
    \draw[infedge] (b13.east) -- ++(6,0) |- (b16.west);
    \draw[resedge] (b15.east) -- ++(4,0) |- (b18.west);
    \draw[infedge] (b17.east) -- ++(6,0) |- (b19.west);
    \draw[ctledge] (b10.south) |- (b13.west);
    \draw[infedge] (b5.south) -- (b7.north);
    \draw[infedge] (b7.south) -- (b11.north);
    \draw[resedge] (b11.south) -- (b13.north);
    \draw[infedge] (b13.south) -- (b15.north);
    \draw[resedge] (b15.south) -- (b17.north);
    \draw[infedge] (b14.east) -- ++(8,0) |- (b15.west);
    \draw[resedge] (b9.west) -- ++(-3,0) |- (b10.west);

    \draw[ctledge] (rg1) -- (g1);
    \draw[ctledge] (rg2) -- (g1);
    \draw[ctledge] (rg3) -- (g3);
    \draw[infedge] (g1.east) -- (g2.west);
    \draw[resedge] (g3.east) -- (g4.west);
    \draw[infedge] (g5.east) -- (g6.west);
    \draw[infedge] (g4.east) -- ++(5,0) |- (g7.west);
    \draw[resedge] (g6.east) -- ++(5,0) |- (g8.west);
    \draw[busedge] (g1.west) -- ++(-5,0) |- (g9.west);
    \draw[infedge] (g2.south) -- (g4.north);
    \draw[ctledge] (b14.south) -- (g1.north);
    \draw[ctledge] (b17) -- (g7);
    \draw[busedge] (b19.south) |- (g8.east);
    \draw[infedge] (g6.south) |- (g9.east);

    \draw[ctledge] (rm1) -- (m1);
    \draw[ctledge] (rm2) -- (m5);
    \draw[ctledge] (rm3) -- (m4);
    \draw[ctledge] (rm4) -- (m4);
    \draw[infedge] (m1.south) -- (m2.north);
    \draw[infedge] (m2.south) -- (m3.north);
    \draw[resedge] (m3.south) -- (m5.north);
    \draw[infedge] (m4.east) -- (m5.west);
    \draw[resedge] (m5.south) -- (m7.north);
    \draw[infedge] (m7.south) -- (m8.north);
    \draw[infedge] (m4.south) -- (m6.north);
    \draw[resedge] (m8.east) -- ++(6,0) |- (g9.west);
    \draw[busedge] (m6.west) -- ++(-5,0) |- (m4.west);

    \draw[ctledge] (rr1) -- (s4);
    \draw[ctledge] (rr2) -- (s1);
    \draw[ctledge] (rr3) -- (s1);
    \draw[infedge] (s1.south) -- (s2.north);
    \draw[infedge] (s2.south) -- (s3.north);
    \draw[busedge] (s3.south) |- (s5.east);
    \draw[infedge] (s5.west) -- (s4.east);
    \draw[busedge] (s4.south) |- (s6.east);
    \draw[resedge] (s1.east) -- ++(5,0) |- (s3.east);
    \draw[infedge] (s2.west) -- ++(-5,0) |- (s5.north);

    \draw[ctledge] (ru1) -- (u4);
    \draw[ctledge] (ru2) -- (u4);
    \draw[ctledge] (ru3) -- (u4);
    \draw[ctledge] (ru4) -- (u5);
    \draw[ctledge] (ru5) -- (u6);
    \draw[ctledge] (ru6) -- (u6);
    \draw[infedge] (u1.east) -- (u2.west);
    \draw[infedge] (u2.east) -- (u3.west);
    \draw[infedge] (u3.east) -- (u4.west);
    \draw[resedge] (u4.south) -- (u5.north);
    \draw[infedge] (u5.south) -- (u6.north);
    \draw[busedge] (u3.south) |- (u6.west);
    \draw[resedge] (u7.east) -- (u8.west);
    \draw[infedge] (u1.south) -- (u7.north);
    \draw[infedge] (u8.south) -- ++(0,5) -| (u9.north);
    \draw[resedge] (u9.south) -- (u10.north);
    \draw[resedge] (u10.south) -- (u11.north);
    \draw[busedge] (u7.west) -- ++(-5,0) |- (u11.west);
    \draw[infedge] (u2.south) -- ++(0,4) -| (u5.west);

    \draw[ctledge] (re1) -- (e8);
    \draw[ctledge] (re2) -- (e4);
    \draw[ctledge] (re3) -- (e4);
    \draw[ctledge] (re4) -- (e3);
    \draw[ctledge] (re5) -- (e8);
    \draw[infedge] (e1.south) -- ++(0,4) -| (e2.north);
    \draw[resedge] (e2.east) -- (e3.west);
    \draw[infedge] (e3.east) -- (e4.west);
    \draw[infedge] (e2.south) -- (e5.north);
    \draw[resedge] (e5.south) -- ++(0,3) -| (e6.north);
    \draw[infedge] (e6.east) -- (e7.west);
    \draw[infedge] (e7.east) -- (e8.west);
    \draw[busedge] (e6.south) |- (e9.east);
    \draw[infedge] (e9.south) -- (e10.north);
    \draw[infedge] (e10.south) -- (e11.north);
    \draw[busedge] (e11.south) -- (u1.north);
    \draw[busedge] (e1.east) -- ++(10,0) |- (l8.west);
    \draw[resedge] (e9.west) -- ++(-5,0) |- (e11.west);
    \draw[busedge] (o5.south) -- ++(0,8) -| (e1.north);

    \draw[ctledge] (rl1) -- (l8);
    \draw[ctledge] (rl2) -- (l8);
    \draw[ctledge] (rl3) -- (l7);
    \draw[ctledge] (rl4) -- (l6);
    \draw[infedge] (l1.south) -- (l3.north);
    \draw[resedge] (l2.east) -- (l3.west|-l2.east);
    \draw[infedge] (l4.east) -- (l5.west);
    \draw[resedge] (l6.east) -- (l7.west);
    \draw[infedge] (l3.south) -- (l5.north);
    \draw[infedge] (l5.south) -- (l7.north);
    \draw[resedge] (l4.west) -- ++(-5,0) |- (l6.west);
    \draw[infedge] (l2.south) -- (l4.north);
    \draw[infedge] (l7.south) -- ++(0,2) -| (l8.north);
    \draw[busedge] (l1.east) -- ++(8,0) |- (y4.west);
    \draw[busedge] (og.south) |- (l3.east);
  \end{pgfonlayer}
\end{tikzpicture}
\end{document}
